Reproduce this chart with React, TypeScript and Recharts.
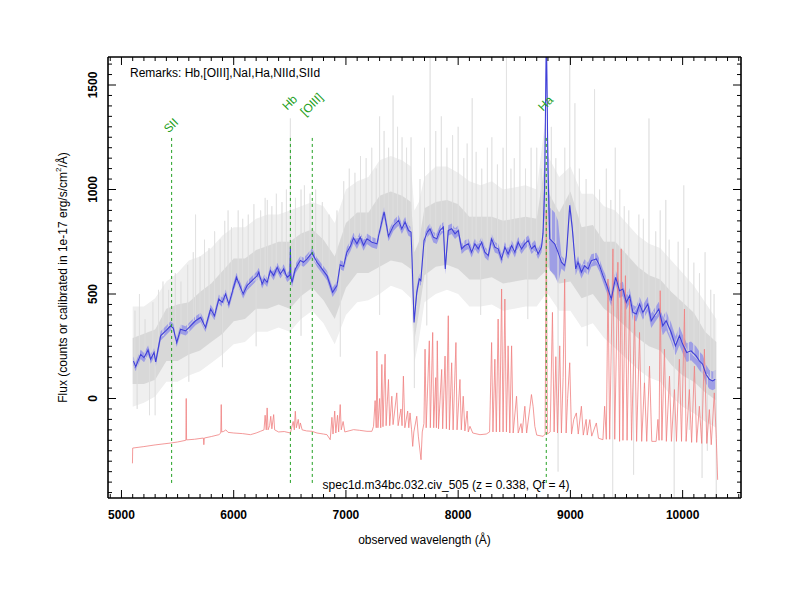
import React from "react";
import {
  Area,
  ComposedChart,
  Line,
  ReferenceLine,
  Scatter,
  XAxis,
  YAxis,
} from "recharts";

// ---- data ----

// mean spectrum (blue)
const blueWave = [
  5107, 5127, 5171, 5201, 5237, 5260, 5290, 5305, 5349, 5394, 5438, 5462, 5492, 5527, 5572, 5616,
  5660, 5705, 5749, 5794, 5829, 5868, 5898, 5927, 5957, 5986, 6025, 6054, 6084, 6120, 6164, 6209,
  6223, 6253, 6274, 6298, 6327, 6356, 6387, 6416, 6445, 6476, 6500, 6505, 6510, 6520, 6549, 6594,
  6623, 6653, 6698, 6742, 6787, 6831, 6881, 6920, 6949, 6979, 7009, 7040, 7068, 7098, 7127, 7157,
  7187, 7231, 7276, 7305, 7340, 7379, 7424, 7468, 7498, 7527, 7557, 7580, 7589, 7607, 7631, 7654,
  7667, 7696, 7725, 7749, 7779, 7809, 7838, 7868, 7885, 7912, 7942, 7972, 8001, 8031, 8060, 8090,
  8120, 8149, 8179, 8209, 8238, 8268, 8298, 8327, 8356, 8387, 8416, 8445, 8476, 8505, 8535, 8564,
  8594, 8624, 8653, 8683, 8712, 8742, 8756, 8770, 8786, 8800, 8816, 8860, 8890, 8920, 8949, 8964,
  8994, 9017, 9047, 9068, 9098, 9127, 9157, 9187, 9231, 9260, 9290, 9320, 9364, 9403, 9438, 9468,
  9498, 9527, 9557, 9587, 9616, 9646, 9690, 9720, 9749, 9788, 9823, 9853, 9898, 9936, 9971, 10001,
  10036, 10075, 10120, 10149, 10178, 10208, 10238, 10267, 10291,
];
const blueFlux = [
  179, 152, 211, 196, 232, 188, 220, 175, 300, 324, 348, 336, 268, 332, 324, 348,
  372, 388, 340, 428, 396, 476, 460, 500, 452, 508, 580, 540, 500, 540, 564, 588,
  604, 548, 572, 556, 612, 588, 628, 596, 620, 580, 590, 724, 580, 556, 620, 660,
  652, 668, 697, 652, 620, 588, 508, 540, 640, 632, 700, 730, 768, 740, 772, 732,
  764, 748, 740, 812, 893, 777, 828, 852, 812, 844, 804, 796, 668, 364, 508, 572,
  564, 756, 796, 812, 772, 764, 804, 820, 620, 804, 812, 788, 804, 716, 732, 740,
  700, 740, 716, 748, 700, 684, 764, 724, 716, 668, 724, 692, 732, 700, 748, 716,
  740, 756, 716, 732, 692, 724, 790, 1000, 1750, 1100, 764, 740, 700, 652, 636, 684,
  924, 812, 620, 652, 604, 636, 620, 660, 668, 636, 588, 548, 476, 580, 516, 524,
  460, 492, 412, 404, 452, 412, 452, 372, 396, 428, 348, 372, 316, 252, 300, 260,
  220, 228, 204, 180, 164, 116, 92, 84, 92,
];
// error band half-width, stepwise by wavelength
const errWave = [5000, 6000, 7000, 8000, 8700, 8760, 8800, 8900, 9300, 9800, 10300];
const errVal = [22, 22, 25, 25, 25, 120, 150, 30, 35, 45, 50];

// individual exposures (grey), envelopes
const grayWave = [
  5100, 5200, 5300, 5400, 5500, 5600, 5700, 5800, 5900, 6000, 6100, 6200, 6300, 6400, 6500, 6600,
  6700, 6800, 6900, 7000, 7100, 7200, 7300, 7400, 7500, 7580, 7610, 7650, 7700, 7800, 7900, 8000,
  8100, 8200, 8300, 8400, 8500, 8600, 8700, 8780, 8800, 8900, 9000, 9100, 9200, 9300, 9400, 9500,
  9600, 9700, 9800, 9900, 10000, 10100, 10200, 10300,
];
const grayLo = [
  70, 70, 90, 180, 180, 210, 230, 270, 310, 370, 380, 430, 430, 450, 430, 490,
  530, 470, 380, 530, 600, 600, 630, 660, 650, 620, 280, 410, 590, 630, 640, 620,
  570, 570, 580, 550, 560, 570, 570, 610, 630, 550, 560, 480, 500, 430, 390, 340,
  290, 250, 230, 160, 110, 80, 30, -10,
];
const grayHi = [
  290, 310, 330, 430, 450, 460, 510, 550, 610, 670, 670, 710, 730, 750, 750, 790,
  810, 760, 680, 840, 890, 890, 970, 990, 970, 940, 700, 750, 910, 940, 950, 930,
  870, 870, 870, 850, 860, 870, 860, 1150, 990, 890, 990, 820, 830, 750, 750, 690,
  630, 590, 570, 510, 460, 410, 320, 270,
];
const grayOuterLo = [
  -40, -20, 10, 80, 80, 110, 130, 170, 210, 260, 270, 320, 320, 340, 320, 380,
  420, 360, 260, 400, 460, 470, 500, 540, 520, 480, 170, 280, 460, 500, 520, 500,
  440, 440, 450, 420, 430, 440, 440, 500, 500, 420, 420, 340, 360, 290, 240, 190,
  140, 100, 80, 10, -40, -70, -110, -140,
];
const grayOuterHi = [
  440, 440, 480, 560, 600, 660, 680, 720, 780, 820, 820, 860, 880, 880, 900, 920,
  940, 920, 840, 1000, 1040, 1060, 1140, 1160, 1140, 1110, 900, 940, 1060, 1110, 1110, 1080,
  1040, 1020, 1040, 1000, 1010, 1020, 1000, 1350, 1160, 1060, 1110, 980, 980, 920, 900, 840,
  780, 740, 720, 660, 600, 540, 460, 380,
];
// single-exposure spikes: tall ones, then the fine texture
const spikeWave = [
  5250, 5660, 5950, 6300, 6505, 6600, 7180, 7300, 7420, 7500, 7610, 7750, 7850, 8000, 8125, 8300,
  8430, 8550, 8700, 8830, 8890, 8994, 9040, 9215, 9377, 9400, 9563, 9700, 9850, 9925, 10010, 10173,
  10200, 10300,
];
const spikePeak = [
  -80, 880, 900, 950, 1340, 1000, 1150, 1350, 1450, 1250, 50, 1630, 1350, 1300, 1437, 1250,
  1700, 1350, 1200, 1300, -350, 1650, 1413, 1480, -470, 1200, -365, 1340, 950, -470, 1020, -380,
  700, -480,
];
const fineWave = [
  5120, 5140, 5160, 5210, 5280, 5300, 5330, 5370, 5420, 5450, 5480, 5530, 5590, 5600, 5640, 5700,
  5740, 5780, 5830, 5880, 5900, 5920, 5980, 6040, 6080, 6130, 6180, 6200, 6240, 6280, 6340, 6380,
  6430, 6470, 6550, 6600, 6630, 6680, 6730, 6790, 6850, 6920, 6950, 6980, 7030, 7080, 7130, 7230,
  7270, 7300, 7340, 7380, 7460, 7540, 7580, 7660, 7700, 7720, 7800, 7900, 7950, 8050, 8080, 8160,
  8200, 8210, 8260, 8350, 8400, 8470, 8500, 8600, 8620, 8650, 8740, 8870, 8950, 9080, 9140, 9150,
  9260, 9320, 9360, 9440, 9480, 9520, 9610, 9650, 9660, 9760, 9800, 9880, 9960, 10050, 10060, 10100,
  10150, 10220, 10250, 10280,
];
const fineTip = [
  420, -50, 500, 380, 460, -80, 520, 560, 520, 0, 600, 560, 640, 80, 700, 680,
  760, 720, 800, 760, 150, 850, 820, 900, 860, 880, 930, 250, 900, 960, 920, 980,
  940, 1000, 960, 300, 1020, 980, 1000, 940, 880, 900, 200, 1040, 1100, 1080, 1160, 1200,
  1100, 400, 1280, 1200, 1300, 1200, 1250, 1050, 1200, 350, 1280, 1200, 1260, 1150, 1220, 1180,
  400, 1100, 1200, 1120, 1200, 1100, 1150, 1100, 380, 1200, 1100, 1150, 1200, 1100, 1050, 250,
  1000, 1100, 950, 1000, 920, 900, 880, 860, 50, 800, 900, 760, 750, 720, -150, 650,
  600, -250, 520, 500,
];

// sky / noise spectrum (red)
const redWave = [
  5098, 5100, 5200, 5300, 5438, 5500, 5572, 5574, 5577, 5580, 5650, 5730, 5734, 5738, 5800, 5868,
  5885, 5889, 5893, 5912, 5930, 5950, 6001, 6080, 6149, 6200, 6238, 6270, 6280, 6290, 6298, 6306,
  6320, 6330, 6340, 6356, 6365, 6400, 6450, 6505, 6530, 6540, 6549, 6558, 6575, 6585, 6594, 6610,
  6650, 6698, 6742, 6800, 6831, 6860, 6875, 6885, 6900, 6910, 6925, 6935, 6949, 6958, 6975, 6990,
  7068, 7120, 7187, 7231, 7246, 7260, 7270, 7276, 7285, 7300, 7310, 7320, 7330, 7349, 7358, 7379,
  7390, 7409, 7420, 7453, 7465, 7490, 7500, 7512, 7525, 7550, 7560, 7571, 7585, 7595, 7605, 7631,
  7645, 7669, 7680, 7695, 7705, 7715, 7743, 7752, 7773, 7782, 7800, 7806, 7814, 7825, 7853, 7862,
  7883, 7895, 7912, 7922, 7942, 7955, 7980, 7990, 8016, 8028, 8045, 8060, 8080, 8090, 8105, 8130,
  8194, 8250, 8280, 8298, 8310, 8327, 8340, 8356, 8370, 8387, 8400, 8416, 8430, 8445, 8460, 8476,
  8490, 8520, 8535, 8560, 8570, 8594, 8610, 8640, 8653, 8668, 8683, 8700, 8757, 8775, 8785, 8795,
  8820, 8840, 8855, 8870, 8885, 8905, 8920, 8935, 8949, 8962, 8975, 8994, 9010, 9030, 9053, 9070,
  9098, 9115, 9140, 9150, 9173, 9190, 9231, 9250, 9290, 9305, 9320, 9335, 9350, 9379, 9395, 9423,
  9438, 9453, 9468, 9490, 9505, 9527, 9545, 9572, 9590, 9616, 9635, 9660, 9680, 9705, 9725, 9764,
  9780, 9790, 9800, 9815, 9838, 9855, 9883, 9900, 9927, 9945, 9971, 9990, 10016, 10031, 10060, 10080,
  10105, 10125, 10149, 10170, 10194, 10215, 10238, 10255, 10282, 10300, 10312,
];
const redFlux = [
  -310, -237, -230, -222, -213, -208, -200, -200, 0, -198, -195, -189, -221, -189, -182, -173,
  -165, -29, -160, -157, -150, -162, -165, -168, -173, -165, -157, -150, -80, -150, -45, -150,
  -130, -85, -145, -77, -150, -160, -158, -165, -110, -150, -61, -140, -100, -145, -117, -150,
  -155, -157, -165, -170, -173, -197, -90, -170, -60, -165, -80, -160, -29, -150, -110, -160,
  -149, -152, -157, -157, -133, -10, -140, 227, -140, 0, -140, 163, -135, 212, -130, 91,
  -130, 11, -125, 27, -130, -50, -130, 107, -140, -60, -140, -69, -150, -229, -160, -85,
  -180, -293, -160, -120, 236, -140, 276, -140, 316, -140, 100, -140, 276, -145, 139, -145,
  203, -145, 396, -150, 171, -150, 268, -150, 91, -150, 11, -155, -60, -160, -133, -165,
  -173, -170, -160, 268, -160, 188, -160, 380, -160, 524, -160, 476, -160, 252, -165, 252,
  -165, 11, -165, -120, -165, -37, -165, -40, 19, -40, -133, -175, -181, -170, 900, -170,
  -160, 412, -160, 200, -165, 252, -165, 100, 572, -165, 0, 171, -170, -100, -69, -170,
  -37, -175, -100, -175, -101, -180, -117, -190, -197, -37, -195, 572, -195, 716, -195, 652,
  -205, 716, -200, 588, -200, 476, -200, 396, -205, 316, -205, 75, -205, 155, -205, -205,
  -100, -200, 516, -200, 236, -205, 107, -205, 43, -205, 188, -205, 428, -205, 43, -210,
  155, -210, -37, -215, 236, -215, -53, -221, 27, -190, -389,
];

// identified lines
const lineWave = [5447, 6505, 6700, 8785];
const lineName = ["SII", "Hb", "[OIII]", "Ha"];
const lineTop = [1255, 1255, 1255, 1255];
const lineBottom = [-404, -404, -404, -404];
const lineLabelY = [1303, 1413, 1404, 1409];

const xMajor = [5000, 6000, 7000, 8000, 9000, 10000];
const yMajor = [0, 500, 1000, 1500];
const X_DOMAIN: [number, number] = [4880, 10520];
const Y_DOMAIN: [number, number] = [-476, 1634];

const remarks = "Remarks: Hb,[OIII],NaI,Ha,NIId,SIId";
const specName = "spec1d.m34bc.032.civ_505 (z = 0.338, Qf = 4)";

// ---- tables for the library ----

const errAt = (w: number) => {
  let e = errVal[0];
  errWave.forEach((ew, i) => {
    if (w >= ew) e = errVal[i];
  });
  return e;
};
const nearestBlue = (w: number) => {
  let best = 0;
  blueWave.forEach((bw, i) => {
    if (Math.abs(bw - w) < Math.abs(blueWave[best] - w)) best = i;
  });
  return blueFlux[best];
};
const blueRows = blueWave.map((w, i) => ({
  w,
  flux: blueFlux[i],
  band: [blueFlux[i] - errAt(w), blueFlux[i] + errAt(w)],
}));
const grayRows = grayWave.map((w, i) => ({
  w,
  inner: [grayLo[i], grayHi[i]],
  outer: [grayOuterLo[i], grayOuterHi[i]],
}));
const spikeRows = [
  ...spikeWave.map((w, i) => ({ w, tip: spikePeak[i] })),
  ...fineWave.map((w, i) => ({ w, tip: fineTip[i] })),
]
  .sort((a, b) => a.w - b.w)
  .flatMap(({ w, tip }) => [
    { w, f: nearestBlue(w) },
    { w, f: tip },
    { w, f: nearestBlue(w) },
  ]);
const redRows = redWave.map((w, i) => ({ w, f: redFlux[i] }));
const tagRows = lineWave.map((w, i) => ({ w, y: lineLabelY[i], name: lineName[i] }));

const xTicks: number[] = [];
for (let v = 4900; v <= 10500; v += 100) xTicks.push(v);
const yTicks: number[] = [];
for (let v = -450; v <= 1600; v += 50) yTicks.push(v);

const FONT = "'Liberation Sans', Arial, sans-serif";
const GREEN = "#23a023";

const XTick = (props: any) => {
  const { x, y, payload, side } = props;
  const major = xMajor.includes(payload.value);
  const len = major ? 8 : 4;
  const dir = side === "bottom" ? -1 : 1;
  return (
    <g>
      <line x1={x} x2={x} y1={y} y2={y + dir * len} stroke="#000" strokeWidth={1} />
      {major && side === "bottom" && (
        <text
          x={x}
          y={y + 21}
          textAnchor="middle"
          fontFamily={FONT}
          fontWeight="bold"
          fontSize={12}
          fill="#000"
        >
          {payload.value}
        </text>
      )}
    </g>
  );
};

const YTick = (props: any) => {
  const { x, y, payload, side } = props;
  const major = yMajor.includes(payload.value);
  const len = major ? 8 : 4;
  const dir = side === "left" ? 1 : -1;
  return (
    <g>
      <line x1={x} x2={x + dir * len} y1={y} y2={y} stroke="#000" strokeWidth={1} />
      {major && side === "left" && (
        <text
          x={x - 11}
          y={y}
          transform={`rotate(-90 ${x - 11} ${y})`}
          textAnchor="middle"
          fontFamily={FONT}
          fontWeight="bold"
          fontSize={12}
          fill="#000"
        >
          {payload.value}
        </text>
      )}
    </g>
  );
};

const XLabel = ({ viewBox }: any) => (
  <text
    x={viewBox.x + viewBox.width / 2}
    y={viewBox.y + 46}
    textAnchor="middle"
    fontFamily={FONT}
    fontSize={12}
    fill="#000"
  >
    observed wavelength (Å)
  </text>
);

const YLabel = ({ viewBox }: any) => {
  const cx = viewBox.x + viewBox.width - 41;
  const cy = viewBox.y + viewBox.height / 2;
  return (
    <text
      x={cx}
      y={cy}
      transform={`rotate(-90 ${cx} ${cy})`}
      textAnchor="middle"
      fontFamily={FONT}
      fontSize={12}
      fill="#000"
    >
      Flux (counts or calibrated in 1e-17 erg/s/cm
      <tspan fontSize={8} dy={-6}>
        2
      </tspan>
      <tspan dy={6}>/Å)</tspan>
    </text>
  );
};

const LineTag = (p: any) => (
  <text
    x={p.cx}
    y={p.cy}
    transform={`rotate(-45 ${p.cx} ${p.cy})`}
    textAnchor="middle"
    dominantBaseline="middle"
    fontFamily={FONT}
    fontSize={12}
    fill={GREEN}
  >
    {p.payload.name}
  </text>
);

const axisLine = { stroke: "#000", strokeWidth: 1.6 };

export default function App() {
  return (
    <div style={{ position: "absolute", left: 0, top: 0, width: 800, height: 600, background: "#fff" }}>
      <ComposedChart
        width={800}
        height={600}
        margin={{ top: 47, right: 49, bottom: 52, left: 58 }}
      >
        <XAxis
          xAxisId="b"
          type="number"
          dataKey="w"
          domain={X_DOMAIN}
          allowDataOverflow
          ticks={xTicks}
          interval={0}
          height={50}
          tickSize={0}
          tickMargin={0}
          tickLine={false}
          axisLine={axisLine}
          tick={<XTick side="bottom" />}
          label={<XLabel />}
        />
        <XAxis
          xAxisId="t"
          orientation="top"
          type="number"
          dataKey="w"
          domain={X_DOMAIN}
          allowDataOverflow
          ticks={xTicks}
          interval={0}
          height={10}
          tickSize={0}
          tickMargin={0}
          tickLine={false}
          axisLine={axisLine}
          tick={<XTick side="top" />}
        />
        <YAxis
          yAxisId="l"
          type="number"
          domain={Y_DOMAIN}
          allowDataOverflow
          ticks={yTicks}
          interval={0}
          width={50}
          tickSize={0}
          tickMargin={0}
          tickLine={false}
          axisLine={axisLine}
          tick={<YTick side="left" />}
          label={<YLabel />}
        />
        <YAxis
          yAxisId="r"
          orientation="right"
          type="number"
          domain={Y_DOMAIN}
          allowDataOverflow
          ticks={yTicks}
          interval={0}
          width={10}
          tickSize={0}
          tickMargin={0}
          tickLine={false}
          axisLine={axisLine}
          tick={<YTick side="right" />}
        />

        <Area
          xAxisId="t"
          yAxisId="r"
          data={grayRows}
          dataKey="outer"
          type="linear"
          stroke="none"
          fill="#efefef"
          fillOpacity={1}
          isAnimationActive={false}
        />
        <Line
          xAxisId="b"
          yAxisId="l"
          data={spikeRows}
          dataKey="f"
          type="linear"
          stroke="#dedede"
          strokeWidth={0.7}
          dot={false}
          isAnimationActive={false}
        />
        <Area
          xAxisId="b"
          yAxisId="l"
          data={grayRows}
          dataKey="inner"
          type="linear"
          stroke="none"
          fill="#d3d3d3"
          fillOpacity={0.85}
          isAnimationActive={false}
        />
        <Line
          xAxisId="b"
          yAxisId="l"
          data={redRows}
          dataKey="f"
          type="linear"
          stroke="#f08080"
          strokeWidth={0.8}
          dot={false}
          isAnimationActive={false}
        />
        <Area
          xAxisId="b"
          yAxisId="l"
          data={blueRows}
          dataKey="band"
          type="linear"
          stroke="none"
          fill="#7878ee"
          fillOpacity={0.6}
          isAnimationActive={false}
        />
        <Line
          xAxisId="b"
          yAxisId="l"
          data={blueRows}
          dataKey="flux"
          type="linear"
          stroke="#4040d8"
          strokeWidth={1.1}
          dot={false}
          isAnimationActive={false}
        />
        <Scatter
          xAxisId="b"
          yAxisId="l"
          data={tagRows}
          dataKey="y"
          shape={LineTag}
          isAnimationActive={false}
        />

        {lineWave.map((w, i) => (
          <ReferenceLine
            key={lineName[i]}
            xAxisId="b"
            yAxisId="l"
            segment={[
              { x: w, y: lineBottom[i] },
              { x: w, y: lineTop[i] },
            ]}
            stroke={GREEN}
            strokeDasharray="3 3"
            strokeWidth={1}
          />
        ))}
      </ComposedChart>
      <div
        style={{
          position: "absolute",
          left: 130,
          top: 66,
          fontFamily: FONT,
          fontSize: 12,
          color: "#000",
          whiteSpace: "nowrap",
        }}
      >
        {remarks}
      </div>
      <div
        style={{
          position: "absolute",
          left: 108,
          width: 676,
          top: 478,
          textAlign: "center",
          fontFamily: FONT,
          fontSize: 12,
          color: "#000",
          whiteSpace: "nowrap",
        }}
      >
        {specName}
      </div>
    </div>
  );
}
